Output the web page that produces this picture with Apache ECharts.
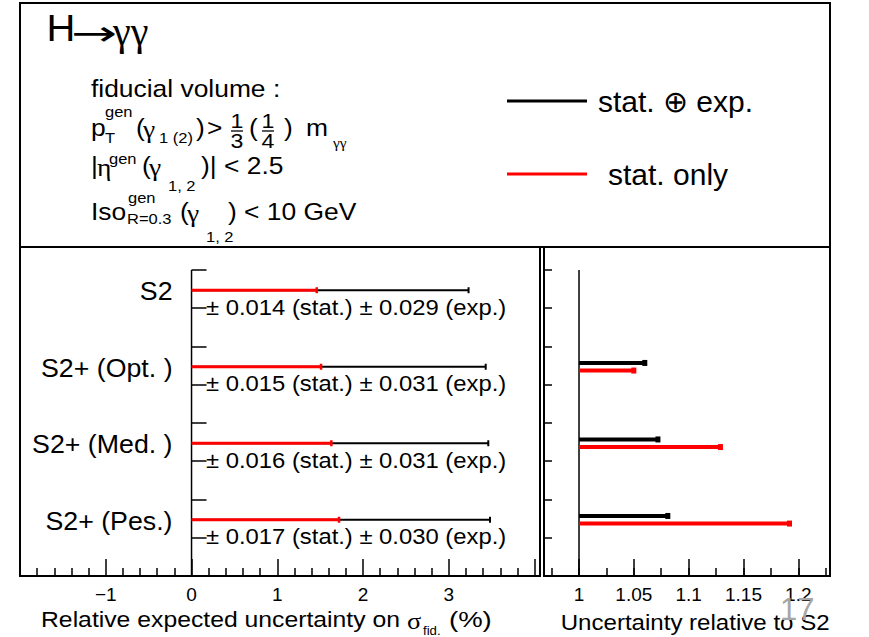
<!DOCTYPE html>
<html><head><meta charset="utf-8">
<script src="https://cdn.jsdelivr.net/npm/echarts@6/dist/echarts.min.js"></script>
<style>html,body{margin:0;padding:0;background:#fff}#c{width:869px;height:637px}</style>
</head><body><div id="c"></div>
<script>
// ---------------- data ----------------
const categories = ['S2', 'S2+ (Opt. )', 'S2+ (Med. )', 'S2+ (Pes.)'];
const rowY = [7.47, 5.47, 3.47, 1.47];
const statOnly = [1.46, 1.51, 1.63, 1.72];      // relative uncertainty (%), stat only
const statExp = [3.23, 3.43, 3.46, 3.48];       // relative uncertainty (%), stat (+) exp
const statErr = ['0.014', '0.015', '0.016', '0.017'];
const expErr = ['0.029', '0.031', '0.031', '0.030'];
const ratioStatExp = [1.000, 1.060, 1.072, 1.081];
const ratioStat = [1.000, 1.050, 1.129, 1.192];
const ratioBase = 1;
const xTicksLeft = [-1, 0, 1, 2, 3];
const xTicksRight = [1, 1.05, 1.1, 1.15, 1.2];
const baseLineLeft = [[0, 0, 8]];
const baseLineRight = [[1, 0, 8]];

// ---------------- helpers ----------------
const FF = '"Liberation Sans", Arial, Helvetica, sans-serif';
const GF = '"Liberation Serif", "DejaVu Serif", serif';
const AF = '"DejaVu Sans", sans-serif';
const RED = '#ff0000';
function txt(text, x, y, size, o) {
  o = o || {};
  const al = o.align || 'left';
  return {type: 'text', x: x, y: y, scaleX: o.sx == null ? 1.1 : o.sx,
    style: {text: text, fontSize: size, fontFamily: o.font || FF, fill: o.color || '#000',
      align: al, textAlign: al, verticalAlign: 'middle', textVerticalAlign: 'middle'}};
}
function g(el, z) { el.z = z || 50; return el; }
function seg(x1, y1, x2, y2, w) {
  return {type: 'line', z: 50, shape: {x1, y1, x2, y2}, style: {stroke: '#000', lineWidth: w || 1.3}};
}
function onList(list, v) { return list.some(t => Math.abs(t - v) < 1e-7); }

const tickStyle = {color: '#000', width: 1.5};

// ---------------- chart ----------------
const chart = echarts.init(document.getElementById('c'), null, {renderer: 'svg'});

const L2 = 127, L3 = 165, L4 = 211;
const graphics = [
  {type: 'rect', z: 40, shape: {x: 20, y: 3, width: 810, height: 244}, style: {fill: 'none', stroke: '#000', lineWidth: 2}},
  {type: 'rect', z: 40, shape: {x: 20, y: 247, width: 520, height: 329}, style: {fill: 'none', stroke: '#000', lineWidth: 2}},
  {type: 'rect', z: 40, shape: {x: 544, y: 247, width: 286, height: 329}, style: {fill: 'none', stroke: '#000', lineWidth: 2}},
  // title H -> gamma gamma
  g(txt('H', 46.5, 28.5, 37, {sx: 1.08})),
  g(txt('\u2192', 71, 33.5, 34, {font: AF, sx: 1.62})),
  g(txt('\u03b3\u03b3', 113, 31, 40, {font: GF, sx: 1.0})),
  g(txt('fiducial volume :', 91, 88, 24)),
  // p_T^gen (gamma_1(2)) > 1/3 (1/4) m_gg
  g(txt('p', 91, L2, 24)),
  g(txt('gen', 105, 112, 15)),
  g(txt('T', 105, 138, 15)),
  g(txt('(', 136, L2, 24)),
  g(txt('\u03b3', 143, L2 + 3, 25, {font: GF})),
  g(txt('1 (2)', 159, 138, 15)),
  g(txt(')', 196, L2, 24)),
  g(txt('>', 207, L2, 24)),
  g(txt('1', 237, 120.5, 21, {align: 'center'})),
  seg(231, 131, 243, 131),
  g(txt('3', 237, 141, 21, {align: 'center'})),
  g(txt('(', 249, L2, 24)),
  g(txt('1', 268, 120.5, 21, {align: 'center'})),
  seg(262, 131, 274, 131),
  g(txt('4', 268, 141, 21, {align: 'center'})),
  g(txt(')', 284, L2, 24)),
  g(txt('m', 306, L2, 24)),
  g(txt('\u03b3\u03b3', 333, 143, 14, {font: GF})),
  // |eta^gen (gamma_1,2)| < 2.5
  g(txt('|', 91, L3, 24)),
  g(txt('\u03b7', 97, L3 + 3, 25, {font: GF})),
  g(txt('gen', 109, 159, 15)),
  g(txt('(', 142, L3, 24)),
  g(txt('\u03b3', 149, L3 + 3, 25, {font: GF})),
  g(txt('1, 2', 168, 186, 15)),
  g(txt(')| < 2.5', 201, L3, 24)),
  // Iso_R=0.3^gen (gamma_1,2) < 10 GeV
  g(txt('Iso', 91, L4, 24)),
  g(txt('gen', 128, 198, 15)),
  g(txt('R=0.3', 127, 218.5, 15)),
  g(txt('(', 180, L4, 24)),
  g(txt('\u03b3', 187, L4 + 3, 25, {font: GF})),
  g(txt('1, 2', 206, 237, 15)),
  g(txt(') < 10 GeV', 228, L4, 24)),
  // axis titles
  g(txt('Relative expected uncertainty on', 41, 619.5, 22, {sx: 1.125})),
  g(txt('\u03c3', 407, 621, 24, {font: GF})),
  g(txt('fid.', 423, 631, 12)),
  g(txt('(%)', 449, 619.5, 22, {sx: 1.25})),
  g(txt('Uncertainty relative to S2', 560.7, 622.8, 22, {sx: 1.095})),
  g(txt('17', 780, 609, 31, {color: '#a6a6a6', sx: 1.0}), 60)
];

function leftTotalRender(params, api) {
  const v = api.value(0), y = api.value(1), i = api.value(2);
  const p0 = api.coord([0, y]), p1 = api.coord([v, y]);
  return {type: 'group', children: [
    {type: 'line', shape: {x1: p0[0], y1: p0[1], x2: p1[0], y2: p1[1]}, style: {stroke: '#000', lineWidth: 2}},
    {type: 'line', shape: {x1: p1[0], y1: p1[1] - 3, x2: p1[0], y2: p1[1] + 3}, style: {stroke: '#000', lineWidth: 2}},
    txt(categories[i], p0[0] - 19, p0[1] + 1.5, 25, {align: 'right', sx: 1.07}),
    txt('\u00b1 ' + statErr[i] + ' (stat.) \u00b1 ' + expErr[i] + ' (exp.)', p0[0] + 14.5, p0[1] + 17, 22, {sx: 1.083})
  ]};
}
function leftStatRender(params, api) {
  const v = api.value(0), y = api.value(1);
  const p0 = api.coord([0, y]), p1 = api.coord([v, y]);
  return {type: 'group', children: [
    {type: 'line', shape: {x1: p0[0], y1: p0[1], x2: p1[0], y2: p1[1]}, style: {stroke: RED, lineWidth: 3}},
    {type: 'line', shape: {x1: p1[0], y1: p1[1] - 3, x2: p1[0], y2: p1[1] + 3}, style: {stroke: RED, lineWidth: 2.5}}
  ]};
}
function rightRender(color, dy) {
  return function (params, api) {
    const v = api.value(0), y = api.value(1);
    if (v <= ratioBase) return {type: 'group', children: []};
    const p0 = api.coord([ratioBase, y]), p1 = api.coord([v, y]);
    const yy = p0[1] + dy;
    return {type: 'group', children: [
      {type: 'line', shape: {x1: p0[0], y1: yy, x2: p1[0], y2: yy}, style: {stroke: color, lineWidth: 4}},
      {type: 'rect', shape: {x: p1[0] - 2.5, y: yy - 3, width: 5, height: 6}, style: {fill: color}}
    ]};
  };
}
function baseRender(params, api) {
  const a = api.coord([api.value(0), api.value(1)]), b = api.coord([api.value(0), api.value(2)]);
  return {type: 'line', shape: {x1: a[0], y1: a[1], x2: b[0], y2: b[1]}, style: {stroke: '#000', lineWidth: 1.5}};
}

const legendBase = {
  orient: 'vertical', left: 507, padding: 0, icon: 'rect', itemWidth: 80, itemHeight: 3,
  selectedMode: false
};

chart.setOption({
  animation: false,
  backgroundColor: '#fff',
  textStyle: {fontFamily: FF},
  grid: [
    {left: 20, top: 247, width: 514.6, height: 329, outerBoundsMode: 'none'},
    {left: 551.6, top: 247, width: 274.1, height: 329, outerBoundsMode: 'none'},
    {left: 579, top: 247, width: 219.3, height: 329, outerBoundsMode: 'none'}
  ],
  legend: [
    Object.assign({}, legendBase, {top: 86, data: ['stat. \u2295 exp.'],
      textStyle: {fontSize: 30, fontFamily: FF, color: '#000', padding: [0, 0, 0, 6]}}),
    Object.assign({}, legendBase, {top: 159, data: ['stat. only'],
      textStyle: {fontSize: 30, fontFamily: FF, color: '#000', padding: [0, 0, 0, 16]}})
  ],
  xAxis: [
    {gridIndex: 0, type: 'value', min: -2, max: 4, interval: 1,
      axisLine: {show: false}, splitLine: {show: false},
      axisTick: {inside: true, length: 17, lineStyle: tickStyle},
      minorTick: {show: true, splitNumber: 5, length: 8, lineStyle: tickStyle},
      axisLabel: {fontSize: 19, color: '#000', fontFamily: FF, margin: 9, showMinLabel: true, showMaxLabel: true,
        formatter: v => onList(xTicksLeft, v) ? (v < 0 ? '\u2212' + Math.abs(v) : String(v)) : ''}},
    {gridIndex: 1, type: 'value', min: 0.975, max: 1.225, interval: 0.025,
      axisLine: {show: false}, splitLine: {show: false},
      axisTick: {inside: true, length: 8, lineStyle: tickStyle},
      axisLabel: {show: false}},
    {gridIndex: 2, type: 'value', min: 1, max: 1.2, interval: 0.05,
      axisLine: {show: false}, splitLine: {show: false},
      axisTick: {inside: true, length: 17, lineStyle: tickStyle},
      axisLabel: {fontSize: 19, color: '#000', fontFamily: FF, margin: 9, showMinLabel: true, showMaxLabel: true,
        formatter: v => onList(xTicksRight, v) ? String(+v.toFixed(2)) : ''}}
  ],
  yAxis: [
    {gridIndex: 0, type: 'value', min: 0, max: 8.6, interval: 1,
      axisLine: {show: false}, splitLine: {show: false}, axisLabel: {show: false},
      axisTick: {inside: true, length: 15, lineStyle: tickStyle}},
    {gridIndex: 1, type: 'value', min: 0, max: 8.6, interval: 1, offset: 7.6,
      axisLine: {show: false}, splitLine: {show: false}, axisLabel: {show: false},
      axisTick: {inside: true, length: 8, lineStyle: tickStyle}},
    {gridIndex: 2, type: 'value', min: 0, max: 8.6, show: false}
  ],
  series: [
    {type: 'custom', name: 'base0', xAxisIndex: 0, yAxisIndex: 0, silent: true,
      data: baseLineLeft, encode: {x: 0, y: 1}, renderItem: baseRender},
    {type: 'custom', name: 'base1', xAxisIndex: 1, yAxisIndex: 1, silent: true,
      data: baseLineRight, encode: {x: 0, y: 1}, renderItem: baseRender},
    {type: 'custom', name: 'stat. \u2295 exp.', xAxisIndex: 0, yAxisIndex: 0, silent: true,
      itemStyle: {color: '#000'}, encode: {x: 0, y: 1},
      data: categories.map((c, i) => [statExp[i], rowY[i], i]), renderItem: leftTotalRender},
    {type: 'custom', name: 'stat. only', xAxisIndex: 0, yAxisIndex: 0, silent: true,
      itemStyle: {color: RED}, encode: {x: 0, y: 1},
      data: categories.map((c, i) => [statOnly[i], rowY[i]]), renderItem: leftStatRender},
    {type: 'custom', name: 'stat. \u2295 exp.', xAxisIndex: 1, yAxisIndex: 1, silent: true,
      itemStyle: {color: '#000'}, encode: {x: 0, y: 1},
      data: categories.map((c, i) => [ratioStatExp[i], rowY[i]]), renderItem: rightRender('#000', -3.8)},
    {type: 'custom', name: 'stat. only', xAxisIndex: 1, yAxisIndex: 1, silent: true,
      itemStyle: {color: RED}, encode: {x: 0, y: 1},
      data: categories.map((c, i) => [ratioStat[i], rowY[i]]), renderItem: rightRender(RED, 3.8)}
  ],
  graphic: graphics
});
</script>
</body></html>
